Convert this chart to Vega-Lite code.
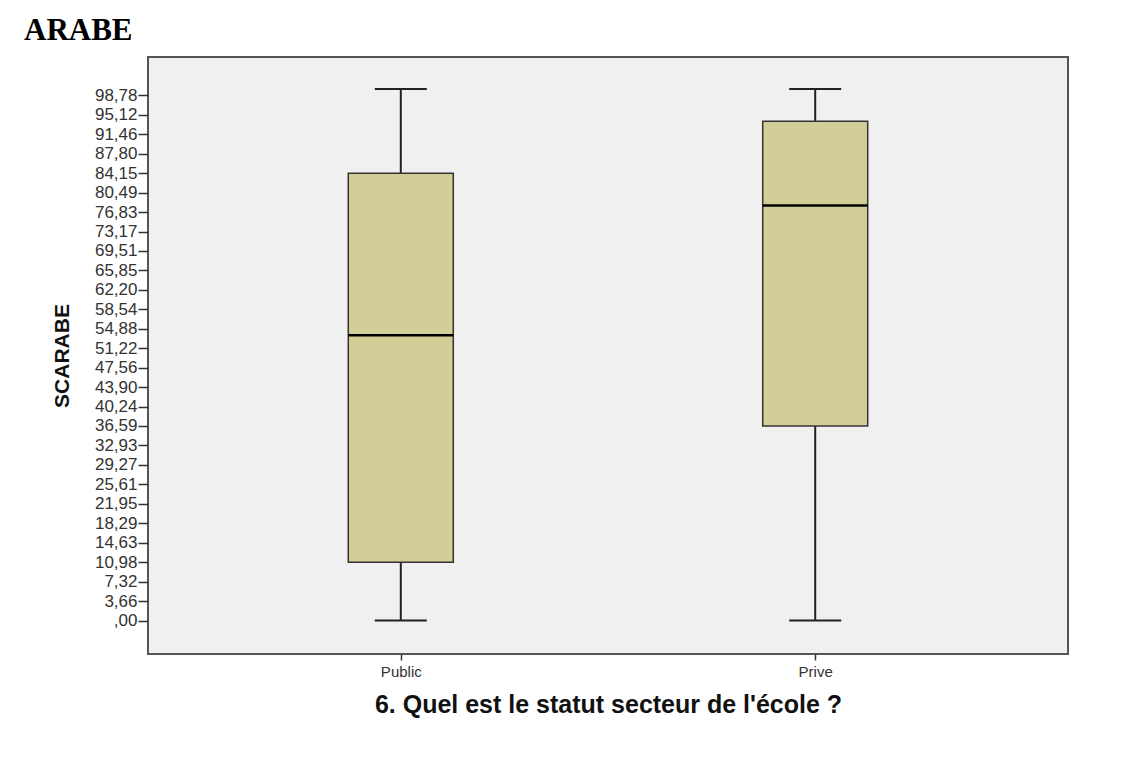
{
  "$schema": "https://vega.github.io/schema/vega-lite/v6.json",
  "width": 920,
  "height": 597,
  "autosize": "none",
  "padding": {"left": 148, "top": 57, "right": 73, "bottom": 124},
  "background": "white",
  "title": {
    "text": "ARABE",
    "anchor": "start",
    "frame": "group",
    "font": "Liberation Serif",
    "fontSize": 31,
    "fontWeight": "bold",
    "color": "#000000",
    "dx": -124,
    "offset": 10
  },
  "config": {
    "view": {"fill": "#F0F0F0", "stroke": "#555555", "strokeWidth": 2},
    "axis": {"grid": false, "domain": false, "labelFont": "Liberation Sans", "titleFont": "Liberation Sans", "tickColor": "#333333", "labelColor": "#333333", "titleColor": "#111111", "tickWidth": 1.5, "labelOverlap": false}
  },
  "data": {
    "values": [
      {"statut": "Public", "min": 0, "q1": 10.98, "median": 53.66, "q3": 84.15, "max": 100},
      {"statut": "Prive", "min": 0, "q1": 36.59, "median": 78.05, "q3": 93.9, "max": 100}
    ]
  },
  "encoding": {
    "x": {
      "field": "statut",
      "type": "nominal",
      "sort": ["Public", "Prive"],
      "scale": {"type": "point", "padding": 0.61},
      "axis": {
        "title": "6. Quel est le statut secteur  de l'école ?",
        "labelAngle": 0,
        "labelFontSize": 15,
        "labelPadding": 4,
        "tickSize": 6,
        "titleFontSize": 25,
        "titleFontWeight": "bold",
        "titlePadding": 13
      }
    }
  },
  "layer": [
    {
      "mark": {"type": "rule", "color": "#222222", "strokeWidth": 2},
      "encoding": {
        "y": {
          "field": "min",
          "type": "quantitative",
          "scale": {"domain": [-6.3, 106], "nice": false, "zero": false},
          "axis": {
            "title": "SCARABE",
            "titleFontSize": 21,
            "titleFontWeight": "bold",
            "titlePadding": 22,
            "labelFontSize": 17,
            "labelPadding": 1,
            "labelOverlap": false,
            "tickSize": 10,
            "tickCount": 60,
            "values": [0, 3.66, 7.32, 10.98, 14.63, 18.29, 21.95, 25.61, 29.27, 32.93, 36.59, 40.24, 43.9, 47.56, 51.22, 54.88, 58.54, 62.2, 65.85, 69.51, 73.17, 76.83, 80.49, 84.15, 87.8, 91.46, 95.12, 98.78],
            "labelExpr": "datum.value == 0 ? ',00' : replace(format(datum.value, '.2f'), '.', ',')"
          }
        },
        "y2": {"field": "q1"}
      }
    },
    {
      "mark": {"type": "rule", "color": "#222222", "strokeWidth": 2},
      "encoding": {
        "y": {"field": "q3", "type": "quantitative"},
        "y2": {"field": "max"}
      }
    },
    {
      "mark": {"type": "bar", "size": 105, "fill": "#D3CE98", "stroke": "#333333", "strokeWidth": 1.5},
      "encoding": {
        "y": {"field": "q1", "type": "quantitative"},
        "y2": {"field": "q3"}
      }
    },
    {
      "mark": {"type": "tick", "size": 105, "thickness": 2.5, "color": "#000000", "opacity": 1},
      "encoding": {"y": {"field": "median", "type": "quantitative"}}
    },
    {
      "mark": {"type": "tick", "size": 52, "thickness": 2, "color": "#222222", "opacity": 1},
      "encoding": {"y": {"field": "min", "type": "quantitative"}}
    },
    {
      "mark": {"type": "tick", "size": 52, "thickness": 2, "color": "#222222", "opacity": 1},
      "encoding": {"y": {"field": "max", "type": "quantitative"}}
    }
  ]
}
